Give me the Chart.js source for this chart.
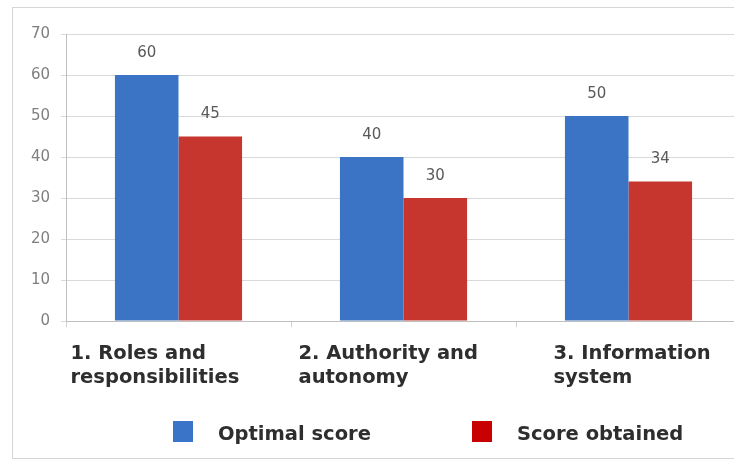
<!DOCTYPE html>
<html>
<head>
<meta charset="utf-8">
<script src="https://cdn.jsdelivr.net/npm/chart.js@4/dist/chart.umd.min.js"></script>
<style>
    html, body { margin: 0; padding: 0; background: #fff; overflow: hidden; width: 734px; height: 460px; }
    #frame { position: absolute; left: 12px; top: 7px; width: 740px; height: 450px; border: 1px solid #d6d6d6; }
    canvas { display: block; }
</style>
</head>
<body>
<div id="frame"><canvas id="chart" width="740" height="450"></canvas></div>
<script>
// data
const categories = [
    ['1. Roles and', 'responsibilities'],
    ['2. Authority and', 'autonomy'],
    ['3. Information', 'system']
];
const optimalScore = [60, 40, 50];
const scoreObtained = [45, 30, 34];
const yTicks = [0, 10, 20, 30, 40, 50, 60, 70];

const seriesNames = ['Optimal score', 'Score obtained'];
const seriesColors = ['#3b74c4', '#c6362f'];
const legendColors = ['#3a74c8', '#c80000'];

// where each category label starts, relative to the category centre
const labelShift = [-108, -105, -75];

const textFont = '"DejaVu Sans", "Open Sans", sans-serif';

const valueLabels = {
    id: 'valueLabels',
    afterDatasetsDraw(chart) {
        let ctx = chart.ctx;
        ctx.save();
        ctx.font = '15px ' + textFont;
        ctx.fillStyle = '#595959';
        ctx.textAlign = 'center';
        ctx.textBaseline = 'middle';
        chart.data.datasets.forEach(function (ds, di) {
            chart.getDatasetMeta(di).data.forEach(function (bar, i) {
                ctx.fillText(String(ds.data[i]), bar.x, bar.y - 22);
            });
        });
        ctx.restore();
    }
};

const categoryLabels = {
    id: 'categoryLabels',
    afterDraw(chart) {
        let ctx = chart.ctx;
        let xScale = chart.scales.x;
        ctx.save();
        ctx.font = 'bold 19.5px ' + textFont;
        ctx.fillStyle = '#2e2e2e';
        ctx.textAlign = 'left';
        ctx.textBaseline = 'alphabetic';
        categories.forEach(function (lines, i) {
            let x = xScale.getPixelForTick(i) + labelShift[i];
            lines.forEach(function (line, li) {
                ctx.fillText(line, x, xScale.top + 38 + li * 24);
            });
        });
        ctx.restore();
    }
};

const bottomLegend = {
    id: 'bottomLegend',
    afterDraw(chart) {
        let ctx = chart.ctx;
        let left = chart.chartArea.left;
        let boxes = [left + 107, left + 406];
        ctx.save();
        ctx.font = 'bold 19.5px ' + textFont;
        ctx.textAlign = 'left';
        ctx.textBaseline = 'alphabetic';
        seriesNames.forEach(function (name, i) {
            ctx.fillStyle = legendColors[i];
            ctx.fillRect(boxes[i], 413, 20, 21);
            ctx.fillStyle = '#2e2e2e';
            ctx.fillText(name, boxes[i] + 45, 432);
        });
        ctx.restore();
    }
};

Chart.defaults.font.family = textFont;
Chart.defaults.animation = false;

new Chart(document.getElementById('chart'), {
    type: 'bar',
    data: {
        labels: categories,
        datasets: [
            {label: seriesNames[0], data: optimalScore, backgroundColor: seriesColors[0]},
            {label: seriesNames[1], data: scoreObtained, backgroundColor: seriesColors[1]}
        ]
    },
    options: {
        responsive: false,
        layout: {padding: {top: 26, right: 12, bottom: 0, left: 0}},
        categoryPercentage: 0.565,
        barPercentage: 1,
        plugins: {legend: {display: false}, tooltip: {enabled: false}},
        scales: {
            x: {
                grid: {display: true, drawOnChartArea: false, color: '#d0d0d0', tickLength: 6},
                border: {color: '#bfbfbf'},
                ticks: {display: false},
                afterFit: function (scale) { scale.height = 137; }
            },
            y: {
                min: 0,
                max: 70,
                afterBuildTicks: function (scale) { scale.ticks = yTicks.map(function (v) { return {value: v}; }); },
                grid: {color: '#d9d9d9', tickLength: 5},
                border: {color: '#bfbfbf'},
                ticks: {color: '#7f7f7f', font: {size: 15}, padding: 11},
                afterFit: function (scale) { scale.width = 53; }
            }
        }
    },
    plugins: [valueLabels, categoryLabels, bottomLegend]
});
</script>
</body>
</html>
